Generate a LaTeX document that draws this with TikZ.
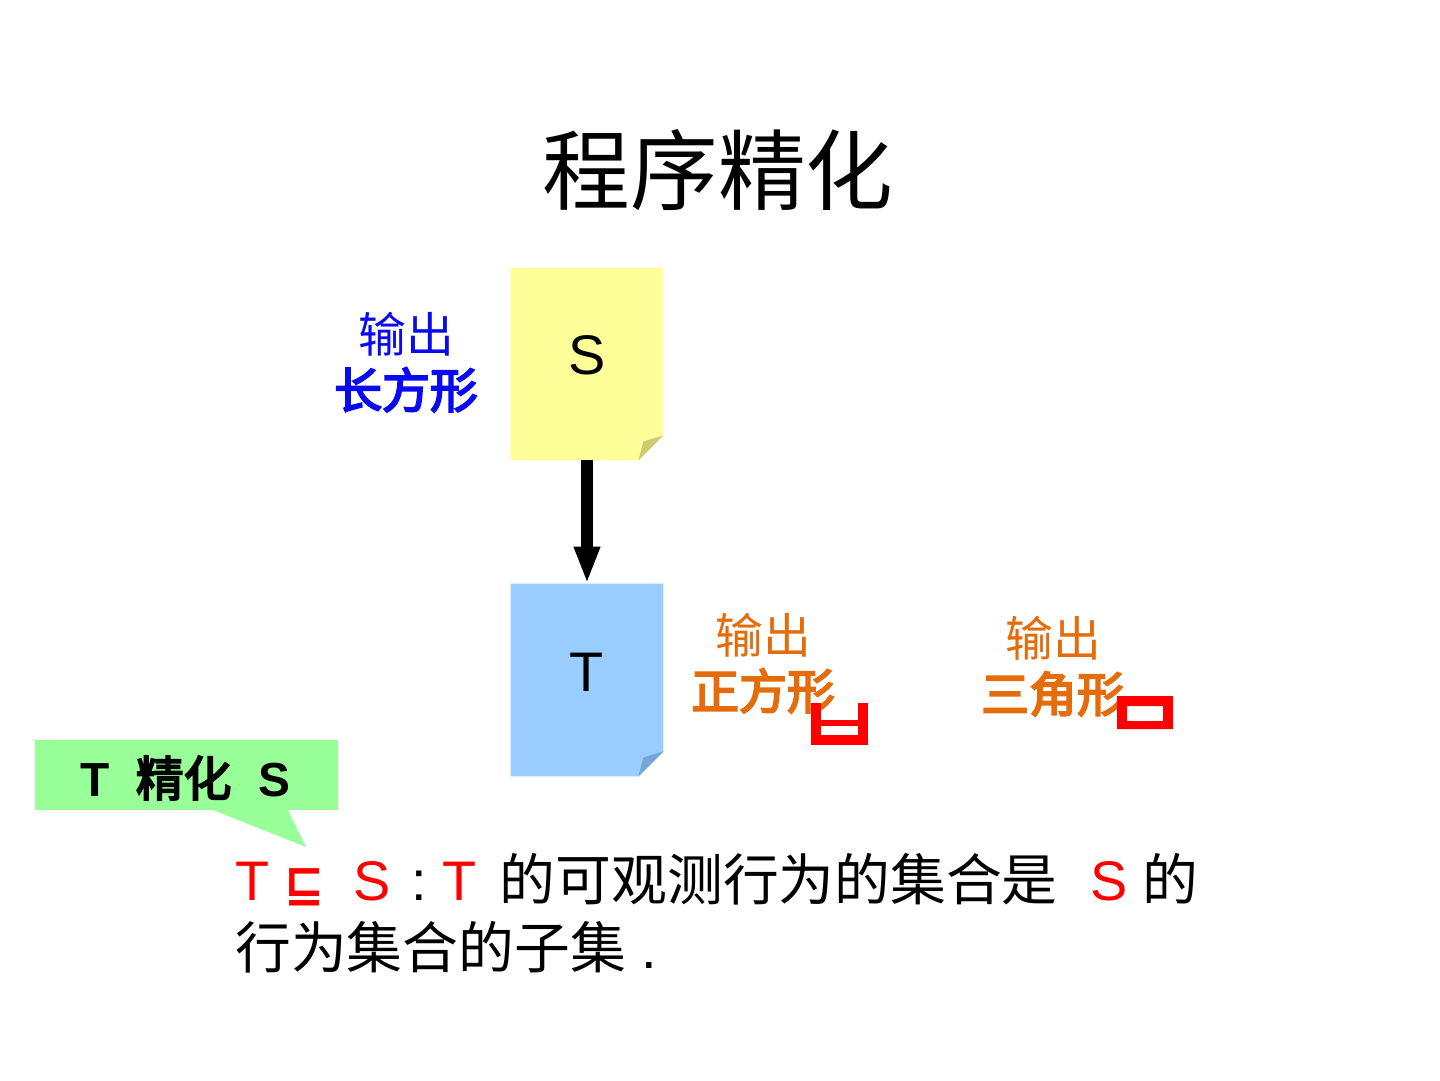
\documentclass[tikz,border=0pt]{standalone}
\usepackage{fontspec}
\setmainfont{Liberation Sans}
\newfontfamily\cjk{Noto Sans CJK SC}
\newfontfamily\cjkbold[FakeBold=4]{Noto Sans CJK SC}
\newfontfamily\symfont{DejaVu Sans}
\usetikzlibrary{arrows.meta, calc, positioning}
\definecolor{docyellow}{HTML}{FFFF99}
\definecolor{foldyellow}{HTML}{CCCC70}
\definecolor{docblue}{HTML}{99CCFF}
\definecolor{foldblue}{HTML}{77A6D6}
\definecolor{callgreen}{HTML}{99FF99}
\definecolor{outblue}{HTML}{0A0AF0}
\definecolor{outorange}{HTML}{E46C0A}

\begin{document}
\begin{tikzpicture}[x=0.5bp, y=-0.5bp,
    doc/.style={minimum width=76bp, minimum height=96bp, inner sep=0pt},
    doctext/.style={font=\fontsize{28}{30}\selectfont},
    outlabel/.style={text=#1, align=center, font=\cjk\fontsize{24}{28}\selectfont},
    flow/.style={-{Triangle[length=18.5bp, width=12bp]}, line width=6bp},
    bug/.style={fill=red}
]
\useasboundingbox (0,0) rectangle (1440,1080);

% title
\node[font=\cjk\fontsize{44}{50}\selectfont] (title) at (718,170) {程序精化};

% the two documents
\node[doc] (sdoc) at (587,364) {};
\node[doc] (tdoc) at (587,680) {};
\foreach \d/\c/\f in {sdoc/docyellow/foldyellow, tdoc/docblue/foldblue}{
  \fill[\c] (\d.north west) -- (\d.north east) -- ($(\d.south east)+(0,-25)$)
    -- ($(\d.south east)+(-25,0)$) -- (\d.south west) -- cycle;
  \fill[\f] ($(\d.south east)+(0,-25)$) -- ($(\d.south east)+(-20,-19)$)
    -- ($(\d.south east)+(-25,0)$) -- cycle;
}
\node[doctext] (stext) at ($(sdoc.center)+(0,-9)$) {S};
\node[doctext] (ttext) at ($(tdoc.center)+(0,-8)$) {T};
\draw[flow] (sdoc.south) -- (tdoc.north);

% outputs
\node[outlabel=outblue] (sout) at (406,362) {输出\\{\cjkbold 长方形}};
\node[outlabel=outorange] (tout) at (763,663) {输出\\{\cjkbold 正方形}};
\node[outlabel=outorange] (tri) at (1053,666) {输出\\{\cjkbold 三角形}};
\fill[bug] (811,703) rectangle (821,745);
\fill[bug] (858,703) rectangle (868,745);
\fill[bug] (811,720) rectangle (868,726);
\fill[bug] (811,735) rectangle (868,745);
\fill[bug, even odd rule] (1117,696) rectangle (1173,729) (1127,706) rectangle (1163,721);

% callout
\fill[callgreen] (35,740) -- (338,740) -- (338,810) -- (288,810) -- (306,847)
  -- (213,810) -- (35,810) -- cycle;
\node[font=\bfseries\fontsize{24}{28}\selectfont] (refine) at (185,778) {T\ \ {\cjkbold\mdseries 精化}\ \ S};

% definition
\node[anchor=base west, inner sep=0pt, font=\fontsize{28}{34}\selectfont] (defa) at (235,900)
  {{\color{red}T {\symfont\bfseries\fontsize{24}{28}\selectfont ⊑}\hspace{6.5bp} S}\hspace{2.5bp} : {\color{red}T}\ \hspace{4bp}{\cjk 的可观测行为的集合是}\ \hspace{8.5bp}{\color{red}S} {\cjk 的}};
\node[anchor=base west, inner sep=0pt, font=\fontsize{28}{34}\selectfont] (defb) at (235,968)
  {{\cjk 行为集合的子集} .};
\end{tikzpicture}
\end{document}
